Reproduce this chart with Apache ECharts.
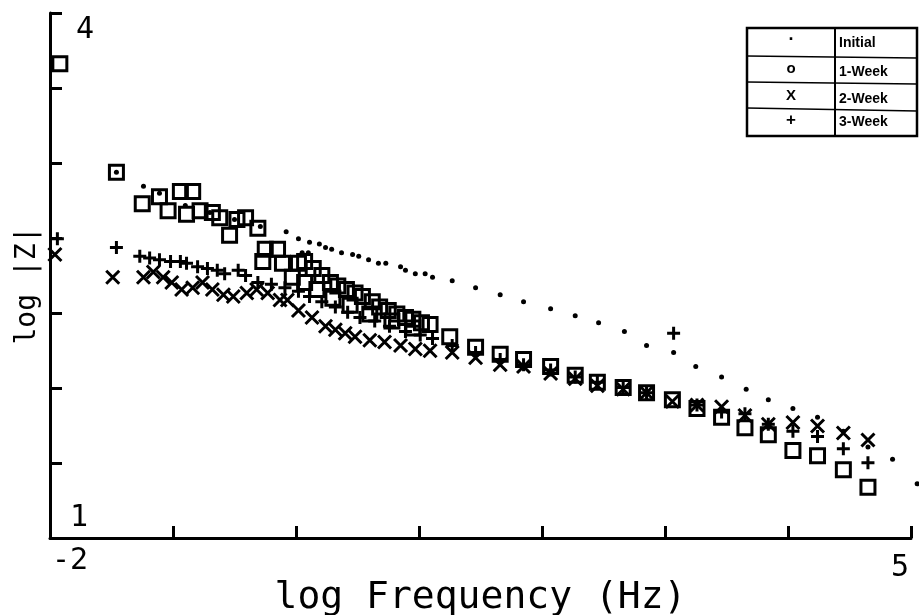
<!DOCTYPE html>
<html>
<head>
<meta charset="utf-8">
<script src="https://cdn.jsdelivr.net/npm/echarts@6/dist/echarts.min.js"></script>
<style>
html,body{margin:0;padding:0;background:#fff;}
#chart{width:919px;height:615px;}
</style>
</head>
<body>
<div id="chart"></div>
<script>
// ---- data (log Frequency, log |Z|) ----
const seriesNames = ['Initial', '1-Week', '2-Week', '3-Week'];

const initialX = [-1.46,-1.24,-1.11,-0.90,-0.70,-0.50,-0.29,-0.08,0.02,0.05,0.10,0.11,0.19,0.24,0.29,0.37,0.46,0.51,0.59,0.67,0.73,0.85,0.89,0.97,1.05,1.11,1.27,1.46,1.66,1.85,2.07,2.27,2.46,2.67,2.85,3.07,3.25,3.46,3.66,3.84,4.04,4.24,4.45,4.65,4.85,5.05];
const initialY = [3.09,3.01,2.97,2.90,2.86,2.82,2.78,2.75,2.71,2.63,2.63,2.69,2.68,2.66,2.65,2.63,2.62,2.61,2.59,2.57,2.57,2.55,2.53,2.51,2.51,2.49,2.47,2.43,2.39,2.35,2.31,2.27,2.23,2.18,2.10,2.06,1.98,1.92,1.85,1.79,1.74,1.69,1.61,1.52,1.45,1.31];

const week1X = [-1.92,-1.46,-1.25,-1.11,-0.94,-0.84,-1.04,-0.89,-0.78,-0.68,-0.62,-0.54,-0.48,-0.41,-0.31,-0.25,-0.15,-0.27,-0.11,0.02,-0.03,0.07,0.14,0.21,0.28,0.34,0.41,0.48,0.54,0.62,0.68,0.75,0.82,0.89,0.95,1.02,1.09,0.07,0.17,0.30,0.44,0.60,0.78,0.95,1.25,1.46,1.66,1.85,2.07,2.27,2.45,2.66,2.85,3.06,3.26,3.46,3.65,3.84,4.04,4.24,4.45,4.65];
const week1Y = [3.71,3.09,2.91,2.95,2.98,2.98,2.87,2.85,2.87,2.86,2.83,2.73,2.82,2.83,2.77,2.65,2.65,2.58,2.57,2.57,2.49,2.58,2.54,2.50,2.46,2.44,2.42,2.40,2.38,2.35,2.32,2.30,2.28,2.26,2.25,2.23,2.22,2.46,2.42,2.37,2.33,2.28,2.24,2.20,2.15,2.09,2.05,2.02,1.98,1.93,1.89,1.86,1.83,1.79,1.74,1.69,1.63,1.59,1.50,1.47,1.39,1.29];

const week2X = [-1.96,-1.49,-1.24,-1.16,-1.08,-1.01,-0.93,-0.84,-0.76,-0.68,-0.59,-0.51,-0.40,-0.32,-0.23,-0.13,-0.07,0.02,0.13,0.24,0.32,0.40,0.48,0.60,0.72,0.85,0.97,1.09,1.27,1.46,1.66,1.85,2.07,2.27,2.45,2.66,2.85,3.06,3.26,3.46,3.65,3.84,4.04,4.24,4.45,4.65];
const week2Y = [2.62,2.49,2.49,2.52,2.49,2.46,2.42,2.43,2.46,2.42,2.39,2.38,2.40,2.42,2.40,2.36,2.36,2.30,2.26,2.21,2.19,2.17,2.15,2.13,2.12,2.10,2.08,2.07,2.06,2.03,1.99,1.98,1.94,1.91,1.87,1.85,1.83,1.78,1.76,1.75,1.70,1.65,1.66,1.64,1.60,1.56];

const week3X = [-1.94,-1.46,-1.27,-1.19,-1.11,-1.02,-0.94,-0.89,-0.80,-0.72,-0.64,-0.58,-0.47,-0.41,-0.31,-0.20,-0.09,0.02,0.11,0.21,0.32,0.42,0.52,0.64,0.76,0.89,1.01,1.11,1.27,1.46,1.66,1.85,2.07,2.27,2.45,2.66,2.85,3.07,3.26,3.46,3.65,3.84,4.04,4.24,4.45,4.65];
const week3Y = [2.71,2.66,2.61,2.60,2.59,2.58,2.58,2.57,2.55,2.54,2.53,2.51,2.53,2.50,2.46,2.45,2.43,2.41,2.38,2.35,2.32,2.29,2.26,2.24,2.21,2.18,2.16,2.14,2.10,2.06,2.02,1.99,1.96,1.92,1.89,1.86,1.83,2.17,1.76,1.72,1.71,1.65,1.61,1.58,1.51,1.43];

const xTickLabels = {'-2': '-2', '5': '5'};
const yTickLabels = ['1', '4'];

function pairs(xs, ys) { return xs.map((x, i) => [x, ys[i]]); }

const chart = echarts.init(document.getElementById('chart'), null, {renderer: 'canvas'});

const FONT = 'DejaVu Sans Mono';
const crossPath = 'path://M0,0L10,10M10,0L0,10';
const plusPath = 'path://M5,0L5,10M0,5L10,5';

const option = {
  animation: false,
  backgroundColor: '#ffffff',
  grid: {left: 50, right: 8, top: 13, bottom: 77, containLabel: false, outerBoundsMode: 'none'},
  xAxis: {
    type: 'value', min: -2, max: 5, interval: 1,
    name: 'log Frequency (Hz)', nameLocation: 'middle', nameGap: 41, nameMoveOverlap: false,
    nameTextStyle: {fontFamily: FONT, fontSize: 38, color: '#000'},
    axisLine: {show: true, onZero: false, lineStyle: {color: '#000', width: 3}},
    axisTick: {show: true, inside: true, length: 12, lineStyle: {color: '#000', width: 3}},
    splitLine: {show: false},
    axisLabel: {
      show: true, margin: 3, color: '#000', fontFamily: FONT, fontSize: 30,
      showMinLabel: true, showMaxLabel: true,
      formatter: function (v) {
        const k = String(Math.round(v));
        if (k === '-2') return '{lo|' + xTickLabels[k] + '}';
        if (k === '5') return '{hi|' + xTickLabels[k] + '}';
        return '';
      },
      rich: {
        lo: {fontFamily: FONT, fontSize: 30, color: '#000', padding: [5, 0, 0, 40]},
        hi: {fontFamily: FONT, fontSize: 30, color: '#000', padding: [12, 22, 0, 0]}
      }
    }
  },
  yAxis: [
    {
      type: 'value', min: 0, max: 7, interval: 1,
      name: 'log |Z|', nameLocation: 'middle', nameGap: 8, nameRotate: 90, nameMoveOverlap: false,
      nameTextStyle: {fontFamily: FONT, fontSize: 28, color: '#000', padding: [0, 0, 0, -20]},
      axisLine: {show: true, onZero: false, lineStyle: {color: '#000', width: 3}},
      axisTick: {show: true, inside: true, length: 12, lineStyle: {color: '#000', width: 3}},
      splitLine: {show: false},
      axisLabel: {
        show: true, inside: true, margin: 20, color: '#000', fontFamily: FONT, fontSize: 30,
        showMinLabel: true, showMaxLabel: true,
        formatter: function (v) {
          if (v === 0) return '{lo|' + yTickLabels[0] + '}';
          if (v === 7) return '{hi|' + yTickLabels[1] + '}';
          return '';
        },
        rich: {
          lo: {fontFamily: FONT, fontSize: 30, color: '#000', padding: [0, 0, 40, 0]},
          hi: {fontFamily: FONT, fontSize: 30, color: '#000', padding: [34, 0, 0, 6]}
        }
      }
    },
    {
      type: 'value', min: 1, max: 4, show: false,
      axisLine: {show: false, onZero: false}, axisTick: {show: false}, axisLabel: {show: false}, splitLine: {show: false}
    }
  ],
  series: [
    {
      name: seriesNames[0], type: 'scatter', yAxisIndex: 1, clip: false,
      symbol: 'circle', symbolSize: 5,
      itemStyle: {color: '#000', opacity: 1},
      data: pairs(initialX, initialY), z: 5
    },
    {
      name: seriesNames[1], type: 'scatter', yAxisIndex: 1, clip: false,
      symbol: 'rect', symbolSize: 14,
      itemStyle: {color: 'none', borderColor: '#000', borderWidth: 3, opacity: 1},
      data: pairs(week1X, week1Y)
    },
    {
      name: seriesNames[2], type: 'scatter', yAxisIndex: 1, clip: false,
      symbol: crossPath, symbolSize: 13,
      itemStyle: {color: 'none', borderColor: '#000', borderWidth: 3, opacity: 1},
      data: pairs(week2X, week2Y)
    },
    {
      name: seriesNames[3], type: 'scatter', yAxisIndex: 1, clip: false,
      symbol: plusPath, symbolSize: 13,
      itemStyle: {color: 'none', borderColor: '#000', borderWidth: 3, opacity: 1},
      data: pairs(week3X, week3Y)
    }
  ],
  graphic: [
    {type: 'rect', shape: {x: 747, y: 28, width: 170, height: 108}, style: {fill: '#fff', stroke: '#000', lineWidth: 2.5}, z: 100},
    {type: 'line', shape: {x1: 835, y1: 28, x2: 835, y2: 136}, style: {stroke: '#000', lineWidth: 2}, z: 101},
    {type: 'line', shape: {x1: 747, y1: 56, x2: 917, y2: 58}, style: {stroke: '#000', lineWidth: 1.5}, z: 101},
    {type: 'line', shape: {x1: 747, y1: 82, x2: 917, y2: 84}, style: {stroke: '#000', lineWidth: 1.5}, z: 101},
    {type: 'line', shape: {x1: 747, y1: 108, x2: 917, y2: 111}, style: {stroke: '#000', lineWidth: 1.5}, z: 101},
    {type: 'text', x: 791, y: 44, style: {text: '.', font: 'bold 18px Liberation Sans', fill: '#000', align: 'center', verticalAlign: 'bottom'}, z: 102},
    {type: 'text', x: 791, y: 69, style: {text: 'o', font: 'bold 15px Liberation Sans', fill: '#000', align: 'center', verticalAlign: 'middle'}, z: 102},
    {type: 'text', x: 791, y: 96, style: {text: 'X', font: 'bold 15px Liberation Sans', fill: '#000', align: 'center', verticalAlign: 'middle'}, z: 102},
    {type: 'text', x: 791, y: 120, style: {text: '+', font: 'bold 17px Liberation Sans', fill: '#000', align: 'center', verticalAlign: 'middle'}, z: 102},
    {type: 'text', x: 839, y: 43, style: {text: seriesNames[0], font: 'bold 14px Liberation Sans', fill: '#000', align: 'left', verticalAlign: 'middle'}, z: 102},
    {type: 'text', x: 839, y: 72, style: {text: seriesNames[1], font: 'bold 14px Liberation Sans', fill: '#000', align: 'left', verticalAlign: 'middle'}, z: 102},
    {type: 'text', x: 839, y: 99, style: {text: seriesNames[2], font: 'bold 14px Liberation Sans', fill: '#000', align: 'left', verticalAlign: 'middle'}, z: 102},
    {type: 'text', x: 839, y: 122, style: {text: seriesNames[3], font: 'bold 14px Liberation Sans', fill: '#000', align: 'left', verticalAlign: 'middle'}, z: 102}
  ]
};

chart.setOption(option);
</script>
</body>
</html>
